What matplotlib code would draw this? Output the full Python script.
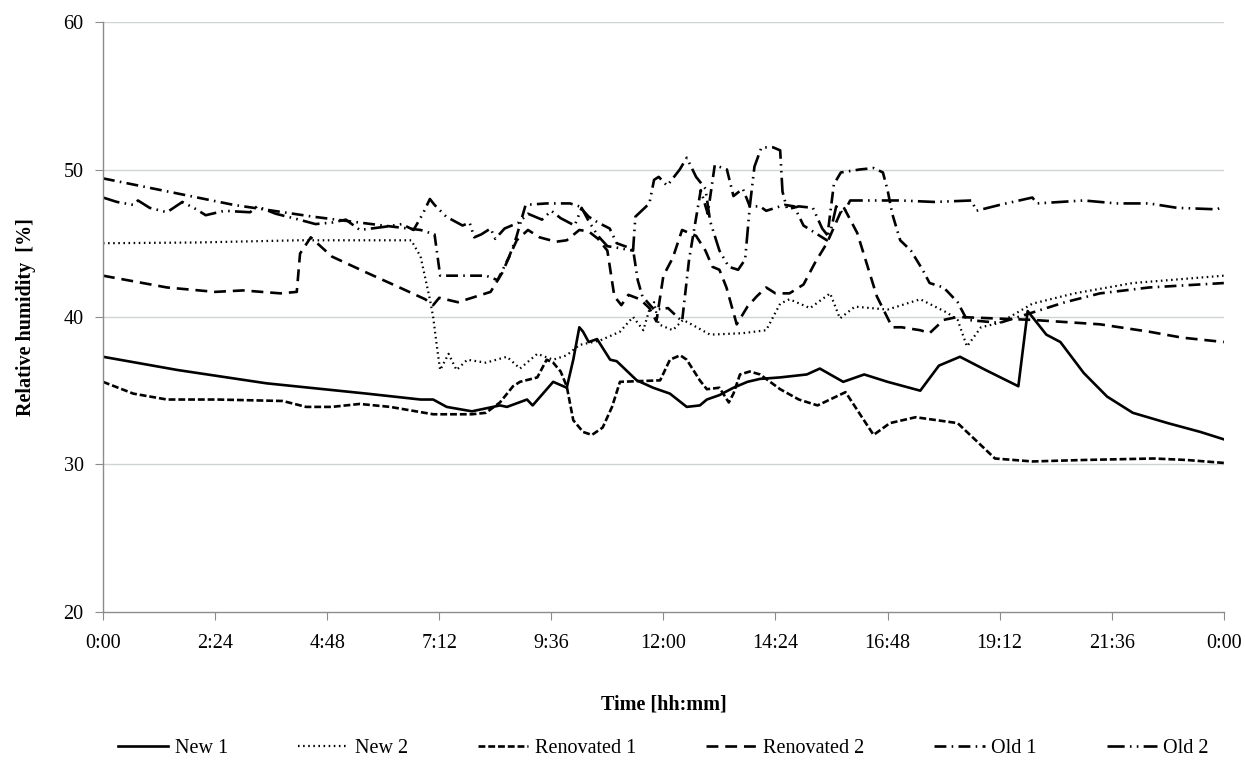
import numpy as np
import matplotlib
matplotlib.use("Agg")
import matplotlib.pyplot as plt
from matplotlib.ticker import FuncFormatter, MultipleLocator

plt.rcParams['font.family'] = ['Liberation Serif', 'DejaVu Serif']

# --- data (time in hours, relative humidity in %) ---
new1_t = [0, 1.6, 3.5, 5.65, 6.8, 7.07, 7.36, 7.9, 8.2, 8.5, 8.65, 9.08, 9.2, 9.64, 9.93,
          10.07, 10.2, 10.28, 10.4, 10.58, 10.86, 11.0, 11.43, 11.78, 12.14, 12.5, 12.78,
          12.93, 13.2, 13.5, 13.8, 14.07, 14.5, 15.07, 15.35, 15.85, 16.3, 16.8, 17.5,
          17.9, 18.35, 18.9, 19.6, 19.8, 20.2, 20.5, 21.0, 21.5, 22.05, 22.8, 23.5, 24]
new1_v = [37.3, 36.4, 35.5, 34.8, 34.4, 34.4, 33.9, 33.6, 33.8, 34.0, 33.9, 34.4, 34.0, 35.6, 35.2,
          37.1, 39.3, 39.0, 38.3, 38.5, 37.1, 37.0, 35.7, 35.2, 34.8, 33.9, 34.0,
          34.4, 34.7, 35.2, 35.6, 35.8, 35.9, 36.1, 36.5, 35.6, 36.1, 35.6, 35.0,
          36.7, 37.3, 36.4, 35.3, 40.4, 38.8, 38.3, 36.2, 34.6, 33.5, 32.8, 32.2, 31.7]

new2_t = [0, 2, 4.2, 6.6, 6.8, 7.0, 7.07, 7.15, 7.22, 7.4, 7.57, 7.8, 8.2, 8.65, 8.93, 9.3,
          9.64, 9.93, 10.2, 10.64, 11.07, 11.35, 11.57, 11.7, 11.8, 11.9, 12.2, 12.42, 12.6,
          13.0, 13.7, 14.2, 14.5, 14.7, 15.14, 15.57, 15.78, 16.1, 16.8, 17.5, 18.07, 18.3,
          18.5, 18.8, 19.2, 19.9, 20.8, 22.05, 24]
new2_v = [45.0, 45.05, 45.2, 45.2, 44.1, 41.2, 40.0, 38.0, 36.4, 37.5, 36.4, 37.1, 36.9, 37.3, 36.5, 37.5,
          37.1, 37.4, 38.1, 38.4, 39.0, 40.0, 39.1, 40.5, 41.0, 39.5, 39.1, 39.8, 39.5,
          38.8, 38.9, 39.1, 40.9, 41.2, 40.6, 41.6, 39.9, 40.7, 40.5, 41.2, 40.3, 39.8,
          38.0, 39.3, 39.6, 40.9, 41.6, 42.3, 42.8]

ren1_t = [0, 0.65, 1.37, 2.45, 3.85, 4.35, 4.9, 5.5, 6.15, 7.07, 7.9, 8.2, 8.5, 8.78, 8.93,
          9.3, 9.5, 9.64, 9.8, 9.93, 10.07, 10.28, 10.47, 10.7, 10.9, 11.07, 11.93, 12.14,
          12.36, 12.5, 12.78, 12.93, 13.2, 13.4, 13.5, 13.64, 13.85, 14.07, 14.5, 14.9, 15.3,
          15.9, 16.5, 16.85, 17.4, 18.3, 19.1, 19.9, 21.0, 22.5, 23.2, 24]
ren1_v = [35.6, 34.8, 34.4, 34.4, 34.3, 33.9, 33.9, 34.1, 33.9, 33.4, 33.4, 33.5, 34.2, 35.3, 35.6,
          35.9, 37.1, 36.9, 36.3, 35.3, 33.0, 32.2, 32.0, 32.5, 33.9, 35.6, 35.7, 37.1,
          37.4, 37.1, 35.7, 35.1, 35.2, 34.2, 34.8, 36.1, 36.3, 36.1, 35.1, 34.4, 34.0,
          34.9, 32.0, 32.8, 33.2, 32.8, 30.4, 30.2, 30.3, 30.4, 30.3, 30.1]

ren2_t = [0, 1.37, 2.4, 3.0, 3.8, 4.15, 4.22, 4.45, 4.9, 5.65, 6.35, 6.9, 7.07, 7.2, 7.6, 8.0,
          8.3, 8.55, 8.7, 8.86, 9.1, 9.35, 9.7, 9.93, 10.2, 10.4, 10.6, 10.8, 10.95, 11.1,
          11.25, 11.5, 11.7, 11.85, 12.0, 12.2, 12.4, 12.7, 12.9, 13.05, 13.2, 13.35, 13.57,
          13.8, 14.0, 14.2, 14.4, 14.7, 15.0, 15.25, 15.5, 15.85, 16.15, 16.57, 16.9, 17.1,
          17.5, 17.7, 18.0, 18.3, 19.9, 21.35, 22.4, 23.1, 24]
ren2_v = [42.8, 42.0, 41.7, 41.8, 41.6, 41.7, 44.3, 45.4, 44.1, 43.0, 42.0, 41.2, 40.8, 41.3, 41.0, 41.4,
          41.7, 43.0, 44.1, 45.2, 45.9, 45.4, 45.1, 45.2, 45.9, 45.8, 45.3, 44.5, 41.4, 40.8,
          41.5, 41.2, 40.6, 39.7, 42.8, 44.0, 45.9, 45.5, 44.5, 43.4, 43.2, 42.0, 39.5,
          40.7, 41.4, 42.0, 41.6, 41.6, 42.2, 43.7, 45.0, 47.5, 45.7, 41.4, 39.3, 39.3,
          39.1, 38.9, 39.8, 40.0, 39.8, 39.5, 39.0, 38.6, 38.3]

old1_t = [0, 1.4, 2.8, 4.5, 6.0, 6.8, 7.1, 7.22, 8.2, 8.45, 8.7, 8.85, 9.05, 9.5, 10.0, 10.2,
          10.4, 10.6, 10.85, 11.0, 11.35, 11.45, 11.55, 11.8, 12.1, 12.4, 12.55, 12.8, 12.95,
          13.1, 13.36, 13.5, 13.7, 13.85, 14.07, 14.2, 14.6, 14.8, 15.0, 15.3, 15.5, 15.65,
          15.8, 16.2, 16.5, 16.7, 16.8, 16.9, 17.07, 17.3, 17.55, 17.7, 18.0, 18.3, 18.5,
          19.2, 19.9, 20.6, 21.35, 22.4, 24]
old1_v = [49.4, 48.5, 47.6, 46.8, 46.2, 45.9, 45.6, 42.8, 42.8, 42.5, 44.1, 45.4, 47.6, 47.7, 47.7, 47.5,
          46.8, 46.4, 46.0, 45.0, 44.6, 42.5, 41.4, 40.5, 40.6, 39.7, 43.9, 48.6, 47.0,
          50.3, 50.0, 48.2, 48.7, 47.5, 47.5, 47.2, 47.6, 47.5, 46.2, 45.6, 45.2, 49.0,
          49.8, 50.0, 50.1, 49.8, 48.6, 47.0, 45.2, 44.5, 43.2, 42.3, 42.0, 41.0, 39.8,
          39.6, 40.3, 41.0, 41.6, 42.0, 42.3]

old2_t = [0, 0.3, 0.65, 0.75, 1.0, 1.37, 1.7, 2.0, 2.2, 2.6, 3.15, 3.3, 3.7, 4.2, 4.55, 4.9,
          5.2, 5.5, 6.0, 6.4, 6.65, 6.85, 7.0, 7.1, 7.35, 7.7, 7.85, 7.95, 8.1, 8.3, 8.4,
          8.6, 8.9, 9.1, 9.4, 9.6, 9.8, 10.1, 10.25, 10.4, 10.6, 10.8, 11.0, 11.35, 11.4,
          11.7, 11.8, 11.9, 12.08, 12.35, 12.5, 12.7, 12.9, 13.0, 13.2, 13.4, 13.6, 13.75,
          13.85, 13.95, 14.1, 14.35, 14.5, 14.55, 14.65, 14.9, 15.2, 15.4, 15.55, 15.7,
          15.85, 16.0, 16.35, 17.07, 17.8, 18.6, 18.7, 19.2, 19.9, 20.0, 21.0, 21.7, 22.4,
          23.0, 23.85, 24]
old2_v = [48.1, 47.8, 47.6, 47.9, 47.4, 47.1, 47.8, 47.3, 46.9, 47.2, 47.1, 47.5, 47.0, 46.6, 46.3, 46.4,
          46.6, 45.9, 46.1, 46.3, 45.9, 47.0, 48.0, 47.6, 46.8, 46.2, 46.4, 45.4, 45.6, 46.0, 45.3,
          46.0, 46.4, 47.0, 46.6, 47.2, 46.7, 46.2, 47.4, 46.5, 45.5, 44.8, 44.7, 44.5, 46.8,
          47.7, 49.3, 49.5, 48.9, 50.0, 50.8, 49.5, 48.7, 46.5, 44.5, 43.4, 43.2, 43.9,
          47.5, 50.2, 51.5, 51.5, 51.3, 48.5, 47.3, 47.5, 47.4, 46.0, 45.4, 47.5,
          47.0, 47.9, 47.9, 47.9, 47.8, 47.9, 47.2, 47.6, 48.1, 47.7, 47.9, 47.7, 47.7,
          47.4, 47.3, 47.5]

x_ticks = np.arange(0, 24.01, 2.4)


def hhmm(x, pos=None):
    m = int(round(x * 60)) % 1440
    return "%d:%02d" % (m // 60, m % 60)


fig = plt.figure(figsize=(12.45, 7.61), dpi=100)
ax = fig.add_axes([0.0827, 0.196, 0.9003, 0.775])

lw = 1.9
ax.plot(new1_t, new1_v, color='black', lw=lw, ls='-', label='New 1')
ax.plot(new2_t, new2_v, color='black', lw=1.6, ls=(0, (0.7, 1.6)), label='New 2')
ax.plot(ren1_t, ren1_v, color='black', lw=lw, ls=(0, (2.6, 1.1)), label='Renovated 1')
ax.plot(ren2_t, ren2_v, color='black', lw=lw, ls=(0, (4.5, 2.6)), label='Renovated 2')
ax.plot(old1_t, old1_v, color='black', lw=lw, ls=(0, (4.5, 2.0, 0.6, 2.0)), label='Old 1')
ax.plot(old2_t, old2_v, color='black', lw=lw, ls=(0, (6.5, 2.0, 0.6, 2.0, 0.6, 2.0)), label='Old 2')

ax.set_xlim(0, 24)
ax.set_ylim(20, 60)
ax.set_xticks(x_ticks)
ax.xaxis.set_major_formatter(FuncFormatter(hhmm))
ax.yaxis.set_major_locator(MultipleLocator(10))

for y in [30, 40, 50, 60]:
    ax.axhline(y, color='#cfd3d6', lw=1.0, zorder=0)

for s in ['top', 'right']:
    ax.spines[s].set_visible(False)
for s in ['left', 'bottom']:
    ax.spines[s].set_color('#8c8c8c')
    ax.spines[s].set_linewidth(1.0)

ax.tick_params(axis='both', direction='out', length=6, color='#8c8c8c',
               labelsize=14.5, pad=10)
ax.tick_params(axis='y', pad=8)

ax.set_xlabel('Time [hh:mm]', fontsize=14.5, fontweight='bold', labelpad=30)
ax.set_ylabel('Relative humidity  [%]', fontsize=14.5, fontweight='bold', labelpad=20)

ax.legend(loc='upper center', bbox_to_anchor=(0.5, -0.185), ncol=6, frameon=False,
          fontsize=14.5, handlelength=2.5, columnspacing=3.5, handletextpad=0.3)

fig.savefig('out.png', dpi=100)
